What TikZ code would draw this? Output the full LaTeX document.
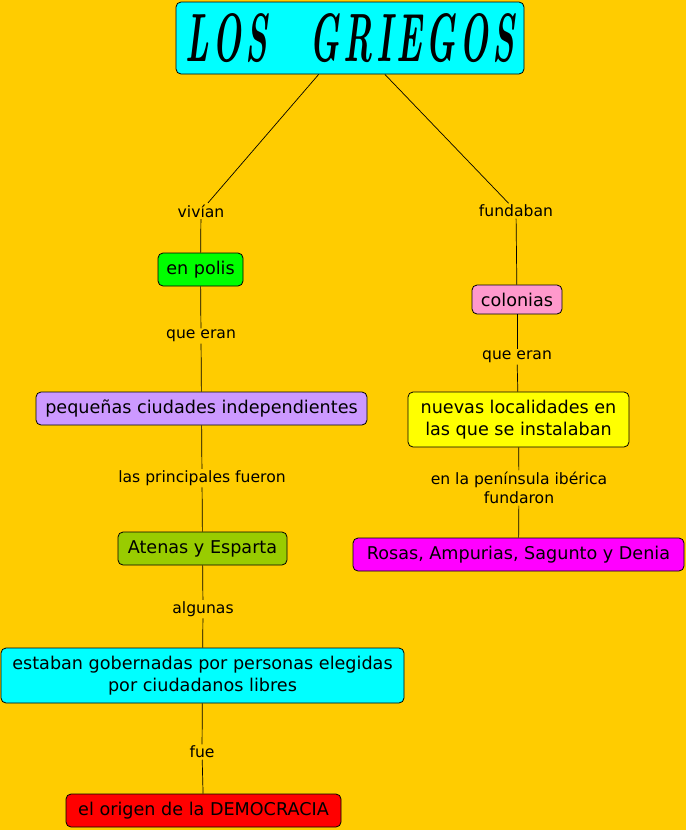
\documentclass[tikz,border=0pt]{standalone}
\usepackage{fontspec}
\setmainfont{DejaVu Sans}
\newfontfamily\titlefont{Latin Modern Roman}
\definecolor{bgc}{HTML}{FFCC00}
\definecolor{cya}{HTML}{00FFFF}
\definecolor{grn}{HTML}{00FF00}
\definecolor{lav}{HTML}{CC99FF}
\definecolor{olv}{HTML}{99CC00}
\definecolor{rdd}{HTML}{FF0000}
\definecolor{pnk}{HTML}{FF99CC}
\definecolor{yel}{HTML}{FFFF00}
\definecolor{mag}{HTML}{FF00FF}
\tikzset{
  concept/.style={draw=black, line width=0.8pt, rounded corners=5pt, align=center,
    font=\fontsize{17.6}{21.5}\selectfont, inner sep=0pt},
  linklbl/.style={font=\fontsize{15.6}{19}\selectfont, align=center, inner sep=1.5pt},
  conn/.style={line width=0.7pt, black}
}
\begin{document}
\begin{tikzpicture}[x=1pt,y=-1pt]
\fill[bgc] (0,0) rectangle (686,830);
\useasboundingbox (0,0) rectangle (686,830);
\node[concept, fill=cya, minimum width=348pt, minimum height=72pt] (title) at (350,38)
  {\raisebox{-4pt}{\resizebox{329pt}{48pt}{\titlefont\itshape\bfseries L\kern2pt O\kern2pt S\ \ \ G\kern2pt R\kern2pt I\kern2pt E\kern2pt G\kern2pt O\kern2pt S}}};
\node[concept, fill=grn, minimum width=85pt, minimum height=33pt] (polis) at (200.5,269.5) {en polis};
\node[concept, fill=lav, minimum width=331pt, minimum height=33pt] (peq) at (201.5,408.5) {pequeñas ciudades independientes};
\node[concept, fill=olv, minimum width=169pt, minimum height=33pt] (aten) at (202.5,548.5) {Atenas y Esparta};
\node[concept, fill=cya, minimum width=403pt, minimum height=55pt] (gob) at (202.5,675.5) {estaban gobernadas por personas elegidas\\por ciudadanos libres};
\node[concept, fill=rdd, minimum width=275pt, minimum height=33pt] (orig) at (203.5,810.5) {el origen de la DEMOCRACIA};
\node[concept, fill=pnk, minimum width=90pt, minimum height=29pt] (col) at (517,299.5) {colonias};
\node[concept, fill=yel, minimum width=221pt, minimum height=55pt] (nuev) at (518.5,419.5) {nuevas localidades en\\las que se instalaban};
\node[concept, fill=mag, minimum width=331pt, minimum height=33pt] (ros) at (518.5,554.5) {Rosas, Ampurias, Sagunto y Denia};
\node[linklbl] (l1) at (201,211) {vivían};
\node[linklbl] (l2) at (201,336) {que eran};
\node[linklbl] (l3) at (202,478) {las principales fueron};
\node[linklbl] (l4) at (203,609) {algunas};
\node[linklbl] (l5) at (202,752) {fue};
\node[linklbl] (r1) at (516,211) {fundaban};
\node[linklbl] (r2) at (517,357) {que eran};
\node[linklbl] (r3) at (519,488) {en la península ibérica\\fundaron};
\draw[conn] (title) -- (l1);
\draw[conn] (l1) -- (polis);
\draw[conn] (polis) -- (l2);
\draw[conn] (l2) -- (peq);
\draw[conn] (peq) -- (l3);
\draw[conn] (l3) -- (aten);
\draw[conn] (aten) -- (l4);
\draw[conn] (l4) -- (gob);
\draw[conn] (gob) -- (l5);
\draw[conn] (l5) -- (orig);
\draw[conn] (title) -- (r1);
\draw[conn] (r1) -- (col);
\draw[conn] (col) -- (r2);
\draw[conn] (r2) -- (nuev);
\draw[conn] (nuev) -- (r3);
\draw[conn] (r3) -- (ros);
\end{tikzpicture}
\end{document}
